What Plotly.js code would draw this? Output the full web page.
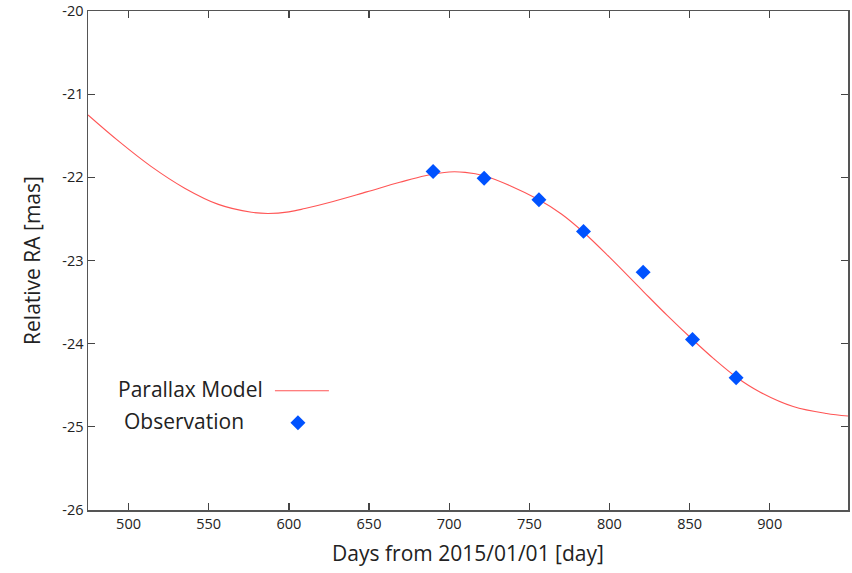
<!DOCTYPE html>
<html>
<head>
<meta charset="utf-8">
<script src="https://cdn.plot.ly/plotly-3.0.1.min.js"></script>
<style>html,body{margin:0;padding:0;background:#fff;}#chart{width:852px;height:573px;}</style>
</head>
<body>
<div id="chart"></div>
<script>
// Parallax model curve
var modelDays = [474.7, 494.0, 514.0, 535.0, 556.0, 576.7, 587.0, 600.0, 610.0, 627.6, 648.5, 669.2, 685.0, 700.0, 710.0, 721.8, 738.0, 756.0, 770.0, 783.8, 800.0, 821.0, 836.0, 851.8, 865.0, 879.0, 893.8, 914.6, 935.4, 948.8];
var modelRA   = [-21.25, -21.568, -21.868, -22.13, -22.325, -22.42, -22.434, -22.415, -22.375, -22.29, -22.175, -22.06, -21.98, -21.935, -21.94, -21.98, -22.10, -22.27, -22.44, -22.66, -22.96, -23.37, -23.66, -23.95, -24.18, -24.40, -24.58, -24.755, -24.84, -24.87];
// Observations
var obsDays = [690.0, 721.8, 756.0, 783.8, 821.0, 851.8, 879.0];
var obsRA   = [-21.93, -22.01, -22.27, -22.65, -23.14, -23.95, -24.41];
var xTicks = [500, 550, 600, 650, 700, 750, 800, 850, 900];
var yTicks = [-26, -25, -24, -23, -22, -21, -20];
var legendNames = ['Parallax Model', 'Observation'];

var lineColor = 'rgb(255,85,85)';
var markColor = 'rgb(0,82,255)';
var fontFam = '"Open Sans", "Noto Sans", sans-serif';

var traces = [
  {x: modelDays, y: modelRA, mode: 'lines', name: legendNames[0], line: {color: lineColor, width: 1.1, shape: 'spline', smoothing: 1}, showlegend: false, hoverinfo: 'skip'},
  {x: obsDays, y: obsRA, mode: 'markers', name: legendNames[1], marker: {symbol: 'diamond', size: 11.5, color: markColor}, showlegend: false}
];

var L = 88, R = 848.3, T = 11.3, B = 510.3;
function px2paperX(px){ return (px - L) / (R - L); }
function px2paperY(py){ return (B - py) / (B - T); }

var titleFont = {family: fontFam, size: 21, color: '#222'};
var axisCommon = {
  showline: true, linecolor: '#555', linewidth: 1.5, mirror: 'ticks',
  ticks: 'inside', ticklen: 7, tickwidth: 1.3, tickcolor: '#444',
  showgrid: false, zeroline: false,
  tickfont: {family: fontFam, size: 14.5, color: '#222'}
};

var layout = {
  width: 852, height: 573,
  margin: {l: L, r: 852 - R, t: T, b: 573 - B},
  paper_bgcolor: '#fff', plot_bgcolor: '#fff',
  showlegend: false,
  xaxis: Object.assign({}, axisCommon, {
    range: [474.7, 948.8], tickvals: xTicks, ticktext: xTicks.map(String),
    title: {text: 'Days from 2015/01/01 [day]', font: titleFont, standoff: 14}
  }),
  yaxis: Object.assign({}, axisCommon, {
    range: [-26, -20], tickvals: yTicks, ticktext: yTicks.map(String),
    title: {text: 'Relative RA [mas]', font: titleFont, standoff: 16}
  }),
  annotations: [
    {xref: 'paper', yref: 'paper', x: px2paperX(116), y: px2paperY(389), xanchor: 'left', yanchor: 'middle', text: legendNames[0], showarrow: false, font: {family: fontFam, size: 21, color: '#222'}},
    {xref: 'paper', yref: 'paper', x: px2paperX(122), y: px2paperY(421), xanchor: 'left', yanchor: 'middle', text: legendNames[1], showarrow: false, font: {family: fontFam, size: 21, color: '#222'}}
  ],
  shapes: [
    {type: 'line', xref: 'paper', yref: 'paper', x0: px2paperX(275), x1: px2paperX(329), y0: px2paperY(391), y1: px2paperY(391), line: {color: lineColor, width: 1.1}},
    {type: 'path', xref: 'paper', yref: 'paper', xsizemode: 'pixel', ysizemode: 'pixel', xanchor: px2paperX(298), yanchor: px2paperY(423),
     path: 'M -7.5 0 L 0 7.5 L 7.5 0 L 0 -7.5 Z', fillcolor: markColor, line: {width: 0}}
  ]
};

Plotly.newPlot('chart', traces, layout, {displayModeBar: false, staticPlot: true});
</script>
</body>
</html>
